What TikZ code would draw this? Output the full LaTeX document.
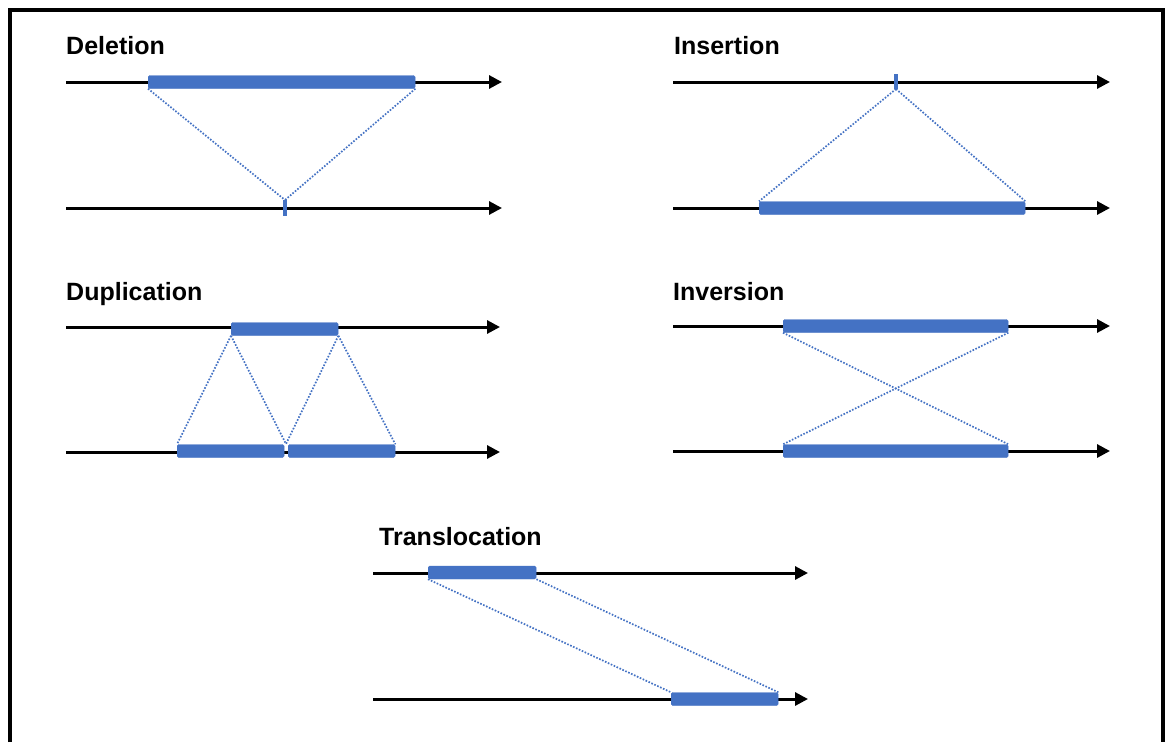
\documentclass[tikz,border=0pt]{standalone}
\usepackage{fontspec}
\setmainfont{Liberation Sans}
\usetikzlibrary{arrows.meta}
\definecolor{segblue}{HTML}{4472C4}
\tikzset{
  chrom/.style={line width=3pt, -{Triangle[length=13pt,width=13pt]}},
  bar/.style={fill=segblue, draw=segblue, line width=0.4pt, rounded corners=1.5pt, inner sep=0pt, minimum height=13pt, anchor=west},
  tick/.style={draw=segblue, line width=3.4pt},
  link/.style={draw=segblue, line width=1.7pt, dash pattern=on 1.6pt off 1.6pt},
  title/.style={font=\bfseries\fontsize{25}{30}\selectfont, anchor=base west, inner sep=0pt},
  frame/.style={line width=3.2pt}
}
\begin{document}
\begin{tikzpicture}[x=1pt,y=-1pt]
\useasboundingbox (0,0) rectangle (1167,742);
\fill[white] (0,0) rectangle (1167,742);
\draw[frame] (10,742) -- (10,10) -- (1163,10) -- (1163,742);

% ---------- Deletion ----------
\node[title] (tdel) at (66,54) {Deletion};
\coordinate (d1a) at (66,82); \coordinate (d1b) at (502,82);
\coordinate (d2a) at (66,208); \coordinate (d2b) at (502,208);
\draw[chrom] (d1a) -- (d1b);
\draw[chrom] (d2a) -- (d2b);
\node[bar, minimum width=267pt] (dbar) at (148,82) {};
\coordinate (dtop) at (285,200); \coordinate (dbot) at (285,216);
\draw[tick] (dtop) -- (dbot);
\draw[link] (dbar.south west) -- (dtop);
\draw[link] (dbar.south east) -- (dtop);

% ---------- Insertion ----------
\node[title] (tins) at (674,54) {Insertion};
\coordinate (i1a) at (673,82); \coordinate (i1b) at (1110,82);
\coordinate (i2a) at (673,208); \coordinate (i2b) at (1110,208);
\draw[chrom] (i1a) -- (i1b);
\draw[chrom] (i2a) -- (i2b);
\node[bar, minimum width=266pt] (ibar) at (759,208) {};
\coordinate (itop) at (896,74); \coordinate (ibot) at (896,89);
\draw[tick] (itop) -- (ibot);
\draw[link] (ibot) -- (ibar.north west);
\draw[link] (ibot) -- (ibar.north east);

% ---------- Duplication ----------
\node[title] (tdup) at (66,300) {Duplication};
\coordinate (u1a) at (66,327); \coordinate (u1b) at (500,327);
\coordinate (u2a) at (66,452); \coordinate (u2b) at (500,452);
\draw[chrom] (u1a) -- (u1b);
\draw[chrom] (u2a) -- (u2b);
\node[bar, minimum width=107pt] (ubar) at (231,329) {};
\node[bar, minimum width=107pt] (ubl) at (177,451) {};
\node[bar, minimum width=107pt] (ubr) at (288,451) {};
\coordinate (umid) at (286,444);
\draw[link] (ubar.south west) -- (ubl.north west);
\draw[link] (ubar.south west) -- (umid);
\draw[link] (ubar.south east) -- (umid);
\draw[link] (ubar.south east) -- (ubr.north east);

% ---------- Inversion ----------
\node[title] (tinv) at (673,300) {Inversion};
\coordinate (v1a) at (673,326); \coordinate (v1b) at (1110,326);
\coordinate (v2a) at (673,451); \coordinate (v2b) at (1110,451);
\draw[chrom] (v1a) -- (v1b);
\draw[chrom] (v2a) -- (v2b);
\node[bar, minimum width=225pt] (vtop) at (783,326) {};
\node[bar, minimum width=225pt] (vbot) at (783,451) {};
\draw[link] (vtop.south west) -- (vbot.north east);
\draw[link] (vtop.south east) -- (vbot.north west);

% ---------- Translocation ----------
\node[title] (ttra) at (379,545) {Translocation};
\coordinate (t1a) at (373,573); \coordinate (t1b) at (808,573);
\coordinate (t2a) at (373,699); \coordinate (t2b) at (808,699);
\draw[chrom] (t1a) -- (t1b);
\draw[chrom] (t2a) -- (t2b);
\node[bar, minimum width=108pt] (ttop) at (428,572.5) {};
\node[bar, minimum width=107pt] (tbot) at (671,699) {};
\draw[link] (ttop.south west) -- (tbot.north west);
\draw[link] (ttop.south east) -- (tbot.north east);
\end{tikzpicture}
\end{document}
